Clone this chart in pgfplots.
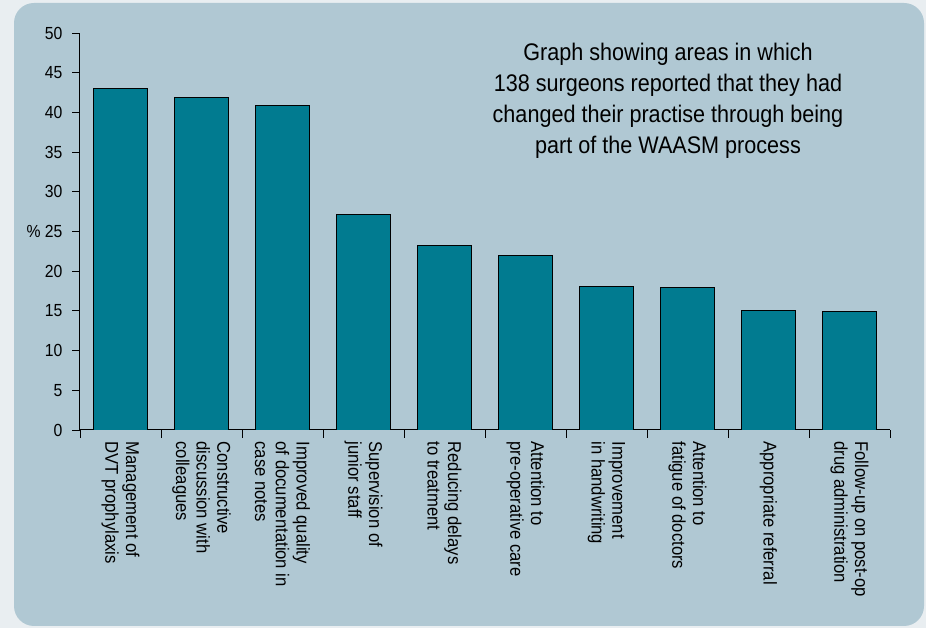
\documentclass[border=0pt]{standalone}
\usepackage{pgfplots}
\pgfplotsset{compat=1.18}
\usepackage{fontspec}
\setmainfont[FakeStretch=0.9]{Liberation Sans}
\definecolor{outerbg}{HTML}{E9EEF1}
\definecolor{panel}{HTML}{B0C8D3}
\definecolor{barc}{HTML}{017B90}
\begin{document}
\begin{tikzpicture}[x=1pt,y=1pt]
\fill[outerbg] (0,0) rectangle (926,628);
\fill[panel, rounded corners=20pt] (14,2) rectangle (924,625);
\begin{axis}[
  at={(80pt,198pt)}, anchor=south west,
  scale only axis, width=810pt, height=397pt,
  xmin=0.5, xmax=10.5, ymin=0, ymax=50,
  axis x line*=bottom, axis y line*=left,
  axis line style={-, black, line width=1pt},
  ytick={0,5,...,50},
  yticklabels={0,5,10,15,20,{\% 25},30,35,40,45,50},
  xtick={0.5,1.5,...,10.5},
  x tick label as interval,
  xticklabels={{Management of\\DVT prophylaxis},
    {Constructive\\discussion with\\colleagues},
    {Improved quality\\of documentation in\\case notes},
    {Supervision of\\junior staff},
    {Reducing delays\\to treatment},
    {Attention to\\pre-operative care},
    {Improvement\\in handwriting},
    {Attention to\\fatigue of doctors},
    {Appropriate referral},
    {Follow-up on post-op\\drug administration}},
  tick align=outside, major tick length=8pt,
  tick style={black, line width=0.8pt},
  /pgf/number format/assume math mode=true,
  yticklabel style={font=\fontsize{17.5}{20.5}\selectfont, xshift=-6pt},
  xticklabel style={rotate=-90, anchor=west, align=left, font=\fontsize{18.5}{20.7}\selectfont},
  ybar, bar width=54pt,
]
\addplot[fill=barc, draw=black, line width=0.8pt] coordinates {
  (1,43.0) (2,41.9) (3,40.9) (4,27.1) (5,23.2)
  (6,22.0) (7,18.1) (8,18.0) (9,15.0) (10,14.9)};
\end{axis}
\node[align=center, font=\fontsize{24}{31}\selectfont] at (668,527)
  {Graph showing areas in which\\138 surgeons reported that they had\\changed their practise through being\\part of the WAASM process};
\end{tikzpicture}
\end{document}
